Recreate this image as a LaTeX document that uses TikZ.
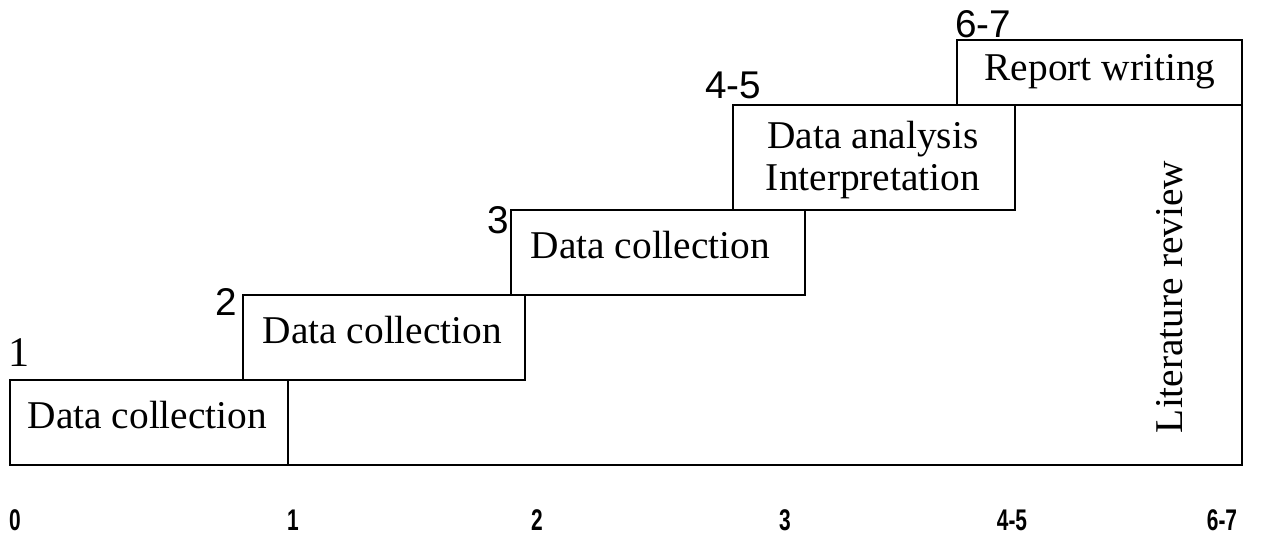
\documentclass[tikz,border=0pt]{standalone}
\usepackage{fontspec}
\setmainfont{Liberation Serif}
\newfontfamily\axisfont{Liberation Sans}
\tikzset{
  stagebox/.style={draw, line width=0.8pt},
  boxtext/.style={font=\fontsize{11.2}{12}\selectfont, inner sep=0pt},
  daylabel/.style={font=\axisfont\fontsize{11}{12}\selectfont, inner sep=0pt},
  axislabel/.style={font=\axisfont\bfseries\fontsize{8.5}{9}\selectfont, inner sep=0pt, anchor=base, xscale=0.7}
}

\begin{document}
\begin{tikzpicture}[x=1cm,y=1cm]
\useasboundingbox (0,0) rectangle (12.63,5.40);
% stages
\draw[stagebox] (0.10,0.75) rectangle (2.88,1.60);
\draw[stagebox] (2.43,1.60) rectangle (5.25,2.45);
\draw[stagebox] (5.11,2.45) rectangle (8.05,3.30);
\draw[stagebox] (7.33,3.30) rectangle (10.15,4.35);
\draw[stagebox] (9.57,4.35) rectangle (12.42,5.00);
\draw[stagebox] (2.88,0.75) -- (12.42,0.75) -- (12.42,4.35);
% texts in the boxes
\node[boxtext, anchor=west] (dc1) at (0.27,1.25) {Data collection};
\node[boxtext, anchor=west] (dc2) at (2.62,2.10) {Data collection};
\node[boxtext, anchor=west] (dc3) at (5.30,2.95) {Data collection};
\node[boxtext, align=center] (ana) at (8.73,3.80) {Data analysis\\Interpretation};
\node[boxtext] (rep) at (11.00,4.68) {Report writing};
\node[boxtext, rotate=90] (lit) at (11.70,2.43) {Literature review};
% numbers at the corners
\node[daylabel, font=\fontsize{12}{13}\selectfont] (n1) at (0.19,1.87) {1};
\node[daylabel] (n2) at (2.26,2.38) {2};
\node[daylabel] (n3) at (4.98,3.20) {3};
\node[daylabel] (n45) at (7.33,4.55) {4-5};
\node[daylabel] (n67) at (9.83,5.16) {6-7};
% scale below
\node[axislabel] (a0) at (0.15,0.09) {0};
\node[axislabel] (a1) at (2.93,0.09) {1};
\node[axislabel] (a2) at (5.37,0.09) {2};
\node[axislabel] (a3) at (7.85,0.09) {3};
\node[axislabel] (a45) at (10.12,0.09) {4-5};
\node[axislabel] (a67) at (12.22,0.09) {6-7};
\end{tikzpicture}
\end{document}
